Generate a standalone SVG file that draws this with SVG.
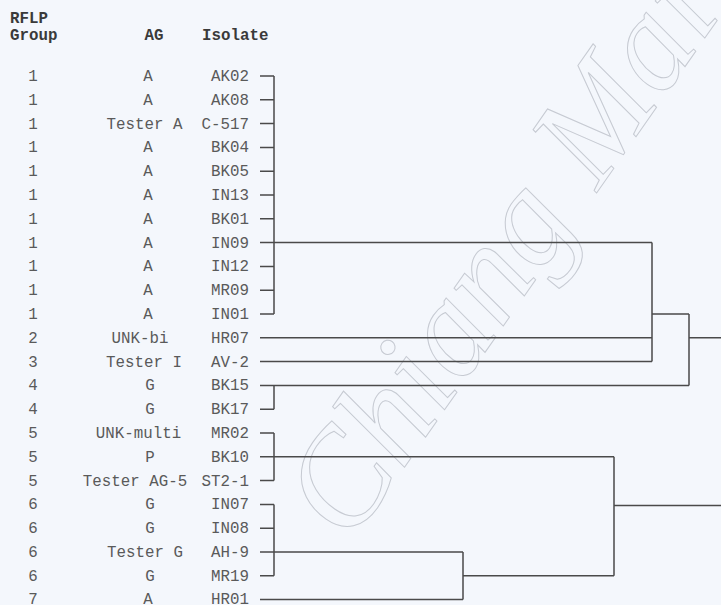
<svg xmlns="http://www.w3.org/2000/svg" width="721" height="605" viewBox="0 0 721 605">
<style>
.t{font-family:"Liberation Mono","DejaVu Sans Mono",monospace;font-size:15.8px;fill:#5a5a5a}
.h{font-family:"Liberation Mono","DejaVu Sans Mono",monospace;font-size:15.8px;fill:#3a3a3a;font-weight:bold}
.g{text-anchor:middle}
.i{text-anchor:end}
.ln{stroke:#4a4a4a;stroke-width:1.5;fill:none}
.wm{font-family:"Liberation Serif",serif;font-style:italic;font-size:135px;fill:none;stroke:#c6cad2;stroke-width:1}
</style>
<rect width="721" height="605" fill="#f4f7fc"/>
<text class="wm" transform="translate(350,545) rotate(-55)">Chiang Mai</text>
<g id="header">
<text class="h" x="10" y="23">RFLP</text>
<text class="h" x="10" y="40">Group</text>
<text class="h" x="154" y="40" text-anchor="middle">AG</text>
<text class="h" x="202" y="40">Isolate</text>
</g>
<g id="leaf-AK02"><text class="t g" x="33" y="81">1</text><text class="t g" x="148" y="81">A</text><text class="t i" x="249" y="81">AK02</text></g>
<g id="leaf-AK08"><text class="t g" x="33" y="104.8">1</text><text class="t g" x="148" y="104.8">A</text><text class="t i" x="249" y="104.8">AK08</text></g>
<g id="leaf-C-517"><text class="t g" x="33" y="128.6">1</text><text class="t g" x="144.5" y="128.6">Tester A</text><text class="t i" x="249" y="128.6">C-517</text></g>
<g id="leaf-BK04"><text class="t g" x="33" y="152.4">1</text><text class="t g" x="148" y="152.4">A</text><text class="t i" x="249" y="152.4">BK04</text></g>
<g id="leaf-BK05"><text class="t g" x="33" y="176.2">1</text><text class="t g" x="148" y="176.2">A</text><text class="t i" x="249" y="176.2">BK05</text></g>
<g id="leaf-IN13"><text class="t g" x="33" y="200">1</text><text class="t g" x="148" y="200">A</text><text class="t i" x="249" y="200">IN13</text></g>
<g id="leaf-BK01"><text class="t g" x="33" y="223.8">1</text><text class="t g" x="148" y="223.8">A</text><text class="t i" x="249" y="223.8">BK01</text></g>
<g id="leaf-IN09"><text class="t g" x="33" y="247.6">1</text><text class="t g" x="148" y="247.6">A</text><text class="t i" x="249" y="247.6">IN09</text></g>
<g id="leaf-IN12"><text class="t g" x="33" y="271.4">1</text><text class="t g" x="148" y="271.4">A</text><text class="t i" x="249" y="271.4">IN12</text></g>
<g id="leaf-MR09"><text class="t g" x="33" y="295.2">1</text><text class="t g" x="148" y="295.2">A</text><text class="t i" x="249" y="295.2">MR09</text></g>
<g id="leaf-IN01"><text class="t g" x="33" y="319">1</text><text class="t g" x="148" y="319">A</text><text class="t i" x="249" y="319">IN01</text></g>
<g id="leaf-HR07"><text class="t g" x="33" y="342.8">2</text><text class="t g" x="140" y="342.8">UNK-bi</text><text class="t i" x="249" y="342.8">HR07</text></g>
<g id="leaf-AV-2"><text class="t g" x="33" y="366.6">3</text><text class="t g" x="144" y="366.6">Tester I</text><text class="t i" x="249" y="366.6">AV-2</text></g>
<g id="leaf-BK15"><text class="t g" x="33" y="390.4">4</text><text class="t g" x="150" y="390.4">G</text><text class="t i" x="249" y="390.4">BK15</text></g>
<g id="leaf-BK17"><text class="t g" x="33" y="414.2">4</text><text class="t g" x="150" y="414.2">G</text><text class="t i" x="249" y="414.2">BK17</text></g>
<g id="leaf-MR02"><text class="t g" x="33" y="438">5</text><text class="t g" x="138.5" y="438">UNK-multi</text><text class="t i" x="249" y="438">MR02</text></g>
<g id="leaf-BK10"><text class="t g" x="33" y="461.8">5</text><text class="t g" x="150" y="461.8">P</text><text class="t i" x="249" y="461.8">BK10</text></g>
<g id="leaf-ST2-1"><text class="t g" x="33" y="485.6">5</text><text class="t g" x="135" y="485.6">Tester AG-5</text><text class="t i" x="249" y="485.6">ST2-1</text></g>
<g id="leaf-IN07"><text class="t g" x="33" y="509.4">6</text><text class="t g" x="150" y="509.4">G</text><text class="t i" x="249" y="509.4">IN07</text></g>
<g id="leaf-IN08"><text class="t g" x="33" y="533.2">6</text><text class="t g" x="150" y="533.2">G</text><text class="t i" x="249" y="533.2">IN08</text></g>
<g id="leaf-AH-9"><text class="t g" x="33" y="557">6</text><text class="t g" x="145" y="557">Tester G</text><text class="t i" x="249" y="557">AH-9</text></g>
<g id="leaf-MR19"><text class="t g" x="33" y="580.8">6</text><text class="t g" x="150" y="580.8">G</text><text class="t i" x="249" y="580.8">MR19</text></g>
<g id="leaf-HR01"><text class="t g" x="33" y="604">7</text><text class="t g" x="148" y="604">A</text><text class="t i" x="249" y="604">HR01</text></g>
<g id="connectors" class="ln">
<path d="M260 76H274M260 99.8H274M260 123.6H274M260 147.4H274M260 171.2H274M260 195H274M260 218.8H274M260 242.6H274M260 266.4H274M260 290.2H274M260 314H274M274 76V314"/>
<path d="M274 242.6H652M260 337.8H652M260 361.6H652M652 242.6V361.6M652 314H689"/>
<path d="M260 385.4H689M260 409.2H274M274 385.4V409.2M689 314V385.4M689 337.8H721"/>
<path d="M260 433H274M260 456.8H274M260 480.6H274M274 433V480.6M274 456.8H614"/>
<path d="M260 504.4H274M260 528.2H274M260 552H274M260 575.8H274M274 504.4V575.8M274 552H463M260 599.6H463M463 552V599.6M463 575.8H614M614 456.8V575.8M614 505.5H721"/>
</g>
</svg>
